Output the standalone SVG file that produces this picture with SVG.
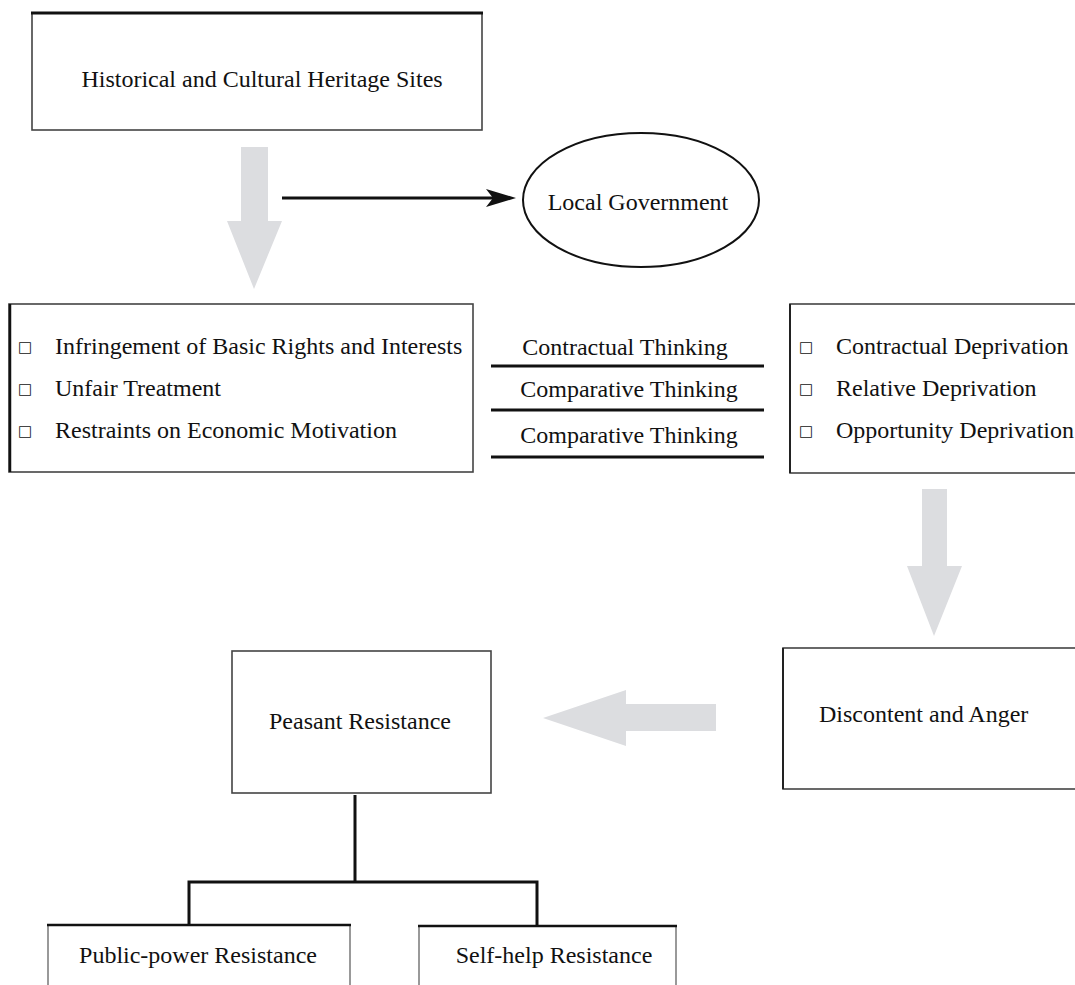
<svg xmlns="http://www.w3.org/2000/svg" width="1075" height="985" viewBox="0 0 1075 985">
<style>
  text { font-family: "Liberation Serif", "Times New Roman", serif; font-size: 24px; fill: #111; }
  .mid { text-anchor: middle; }
  .box { fill: #fff; stroke: #444; stroke-width: 1.6; }
  .edge { stroke: #111; stroke-width: 3; fill: none; }
  .thin { stroke: #111; stroke-width: 2.4; fill: none; }
  .big { fill: #dcdde0; stroke: none; }
  .bul { font-family: "DejaVu Sans", sans-serif; font-size: 15px; }
  .rule { stroke: #111; stroke-width: 3; }
</style>
<rect width="1075" height="985" fill="#fff"/>

<g id="connectors">
  <!-- big grey arrows -->
  <polygon class="big" points="241,147 268,147 268,221 282,221 254,289 227,221 241,221"/>
  <polygon class="big" points="922,489 947,489 947,566 962,566 934,636 907,566 922,566"/>
  <polygon class="big" points="716,704 716,731 626,731 626,746 543,718 626,690 626,704"/>
  <!-- arrow to local government -->
  <line class="edge" x1="282" y1="198" x2="500" y2="198"/>
  <polygon points="516,198 486,189 493,198 486,207" fill="#111"/>
  <!-- tree -->
  <path class="edge" d="M355,795 V882 M189,925 V882 H537 V925"/>
  <!-- thinking rules -->
  <line class="rule" x1="491" y1="366" x2="764" y2="366"/>
  <line class="rule" x1="491" y1="410" x2="764" y2="410"/>
  <line class="rule" x1="491" y1="457" x2="764" y2="457"/>
  <text class="mid" x="625" y="355">Contractual Thinking</text>
  <text class="mid" x="629" y="397">Comparative Thinking</text>
  <text class="mid" x="629" y="443">Comparative Thinking</text>
</g>

<g id="heritage">
  <rect class="box" x="32" y="13" width="450" height="117"/>
  <line x1="31" y1="13" x2="483" y2="13" stroke="#111" stroke-width="3"/>
  <text class="mid" x="262" y="87">Historical and Cultural Heritage Sites</text>
</g>

<g id="local-government">
  <ellipse cx="641" cy="200" rx="118" ry="67" fill="#fff" stroke="#111" stroke-width="2"/>
  <text class="mid" x="638" y="210">Local Government</text>
</g>

<g id="impacts">
  <rect class="box" x="9" y="304" width="464" height="168"/>
  <line x1="10" y1="304" x2="10" y2="472" stroke="#111" stroke-width="2.5"/>
  <text class="bul" x="18" y="352">□</text>
  <text x="55" y="354">Infringement of Basic Rights and Interests</text>
  <text class="bul" x="18" y="394">□</text>
  <text x="55" y="396">Unfair Treatment</text>
  <text class="bul" x="18" y="436">□</text>
  <text x="55" y="438">Restraints on Economic Motivation</text>
</g>

<g id="deprivation">
  <rect class="box" x="790" y="304" width="300" height="169"/>
  <line x1="790" y1="304" x2="790" y2="473" stroke="#222" stroke-width="2"/>
  <text class="bul" x="799" y="352">□</text>
  <text x="836" y="354">Contractual Deprivation</text>
  <text class="bul" x="799" y="394">□</text>
  <text x="836" y="396">Relative Deprivation</text>
  <text class="bul" x="799" y="436">□</text>
  <text x="836" y="438">Opportunity Deprivation</text>
</g>

<g id="discontent">
  <rect class="box" x="783" y="648" width="300" height="141"/>
  <line x1="783" y1="648" x2="783" y2="789" stroke="#222" stroke-width="2"/>
  <text x="819" y="722">Discontent and Anger</text>
</g>

<g id="peasant-resistance">
  <rect class="box" x="232" y="651" width="259" height="142"/>
  <text class="mid" x="360" y="729">Peasant Resistance</text>
</g>

<g id="public-power">
  <rect x="48" y="925" width="302" height="70" fill="#fff" stroke="#999" stroke-width="2"/>
  <line x1="47" y1="925" x2="351" y2="925" stroke="#111" stroke-width="2.5"/>
  <text class="mid" x="198" y="963">Public-power Resistance</text>
</g>

<g id="self-help">
  <rect x="419" y="926" width="257" height="70" fill="#fff" stroke="#999" stroke-width="2"/>
  <line x1="418" y1="926" x2="677" y2="926" stroke="#111" stroke-width="2.5"/>
  <text class="mid" x="554" y="963">Self-help Resistance</text>
</g>
</svg>
